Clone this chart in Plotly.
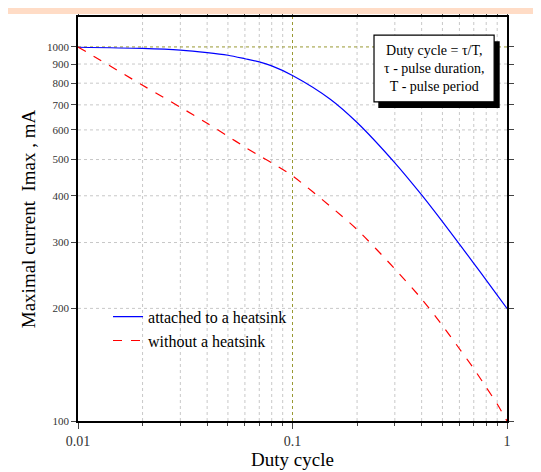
import plotly.graph_objects as go

duty = [0.01, 0.02, 0.03, 0.04, 0.05, 0.06, 0.07, 0.08, 0.1, 0.15, 0.2, 0.3, 0.4, 0.5, 0.6, 0.7, 0.8, 0.9, 1.0]
heatsink = [998, 991, 981, 966, 950, 930, 912, 890, 839, 725, 628, 490, 402, 341, 297, 264, 238, 217, 200]
no_heatsink = [1000, 790, 690, 625, 577, 540, 512, 490, 452, 375, 325, 255, 212, 180, 156, 138, 123, 111, 100]

y_ticks = [100, 200, 300, 400, 500, 600, 700, 800, 900, 1000]
x_ticks = [0.01, 0.1, 1]
x_minor = [a * b for b in (0.01, 0.1) for a in range(2, 10)]

font = "Liberation Serif"
fig = go.Figure()
fig.add_trace(go.Scatter(x=duty, y=heatsink, mode="lines", name="attached to a heatsink",
                         line=dict(color="blue", width=1.2, shape="spline", smoothing=0.8)))
fig.add_trace(go.Scatter(x=duty, y=no_heatsink, mode="lines", name="without a heatsink",
                         line=dict(color="red", width=1.2, dash="dash", shape="spline", smoothing=0.8)))

# dotted grid
for v in x_minor:
    fig.add_shape(type="line", x0=v, x1=v, y0=0, y1=1, xref="x", yref="paper",
                  line=dict(color="#c8c8c8", width=1, dash="dot"), layer="below")
for v in y_ticks[1:-1]:
    fig.add_shape(type="line", x0=0, x1=1, y0=v, y1=v, xref="paper", yref="y",
                  line=dict(color="#c8c8c8", width=1, dash="dot"), layer="below")
fig.add_shape(type="line", x0=0.1, x1=0.1, y0=0, y1=1, xref="x", yref="paper",
              line=dict(color="#999933", width=1, dash="dot"), layer="below")
fig.add_shape(type="line", x0=0, x1=1, y0=1000, y1=1000, xref="paper", yref="y",
              line=dict(color="#999933", width=1, dash="dot"), layer="below")

# top band
fig.add_shape(type="rect", x0=-0.3, x1=1.3, y0=1 + 3 / 404, y1=1 + 12 / 404,
              xref="paper", yref="paper", fillcolor="#ffdcc6", line=dict(width=0))

# annotation box with shadow
fig.add_shape(type="rect", x0=0.7, x1=0.983, y0=0.775, y1=0.94, xref="paper", yref="paper",
              fillcolor="black", line=dict(width=0))
fig.add_shape(type="rect", x0=0.69, x1=0.97, y0=0.79, y1=0.955, xref="paper", yref="paper",
              fillcolor="white", line=dict(color="black", width=1.2))
fig.add_annotation(x=0.83, y=0.872, xref="paper", yref="paper", showarrow=False,
                   xanchor="center", yanchor="middle",
                   text="Duty cycle = τ/T,<br>τ - pulse duration,<br>T - pulse period",
                   font=dict(family=font, size=14, color="black"))

fig.update_xaxes(type="log", range=[-2, 0], tickvals=x_ticks, ticktext=["0.01", "0.1", "1"],
                 showgrid=False, showline=True, linecolor="black", linewidth=1.5, mirror="ticks",
                 ticks="outside", ticklen=6, tickwidth=1.2, automargin=False,
                 minor=dict(tickvals=x_minor, ticks="outside", ticklen=3, showgrid=False),
                 title=dict(text="Duty cycle", font=dict(family=font, size=19), standoff=4),
                 tickfont=dict(family=font, size=14, color="#333"))
fig.update_yaxes(type="log", range=[2, 3.08], tickvals=y_ticks, ticktext=[str(v) for v in y_ticks],
                 showgrid=False, showline=True, linecolor="black", linewidth=1.5, mirror="ticks",
                 ticks="outside", ticklen=5, tickwidth=1.2, automargin=False,
                 title=dict(text="Maximal current  Imax , mA", font=dict(family=font, size=19), standoff=6),
                 tickfont=dict(family=font, size=11, color="#333"))
fig.update_layout(width=533, height=464, margin=dict(l=70, r=34, t=9, b=51, autoexpand=False),
                  plot_bgcolor="white", paper_bgcolor="white",
                  font=dict(family=font, color="black"),
                  legend=dict(x=0.07, y=0.3, xanchor="left", yanchor="top",
                              bgcolor="rgba(0,0,0,0)", font=dict(family=font, size=16),
                              tracegroupgap=0))
fig.write_html("out.html")
